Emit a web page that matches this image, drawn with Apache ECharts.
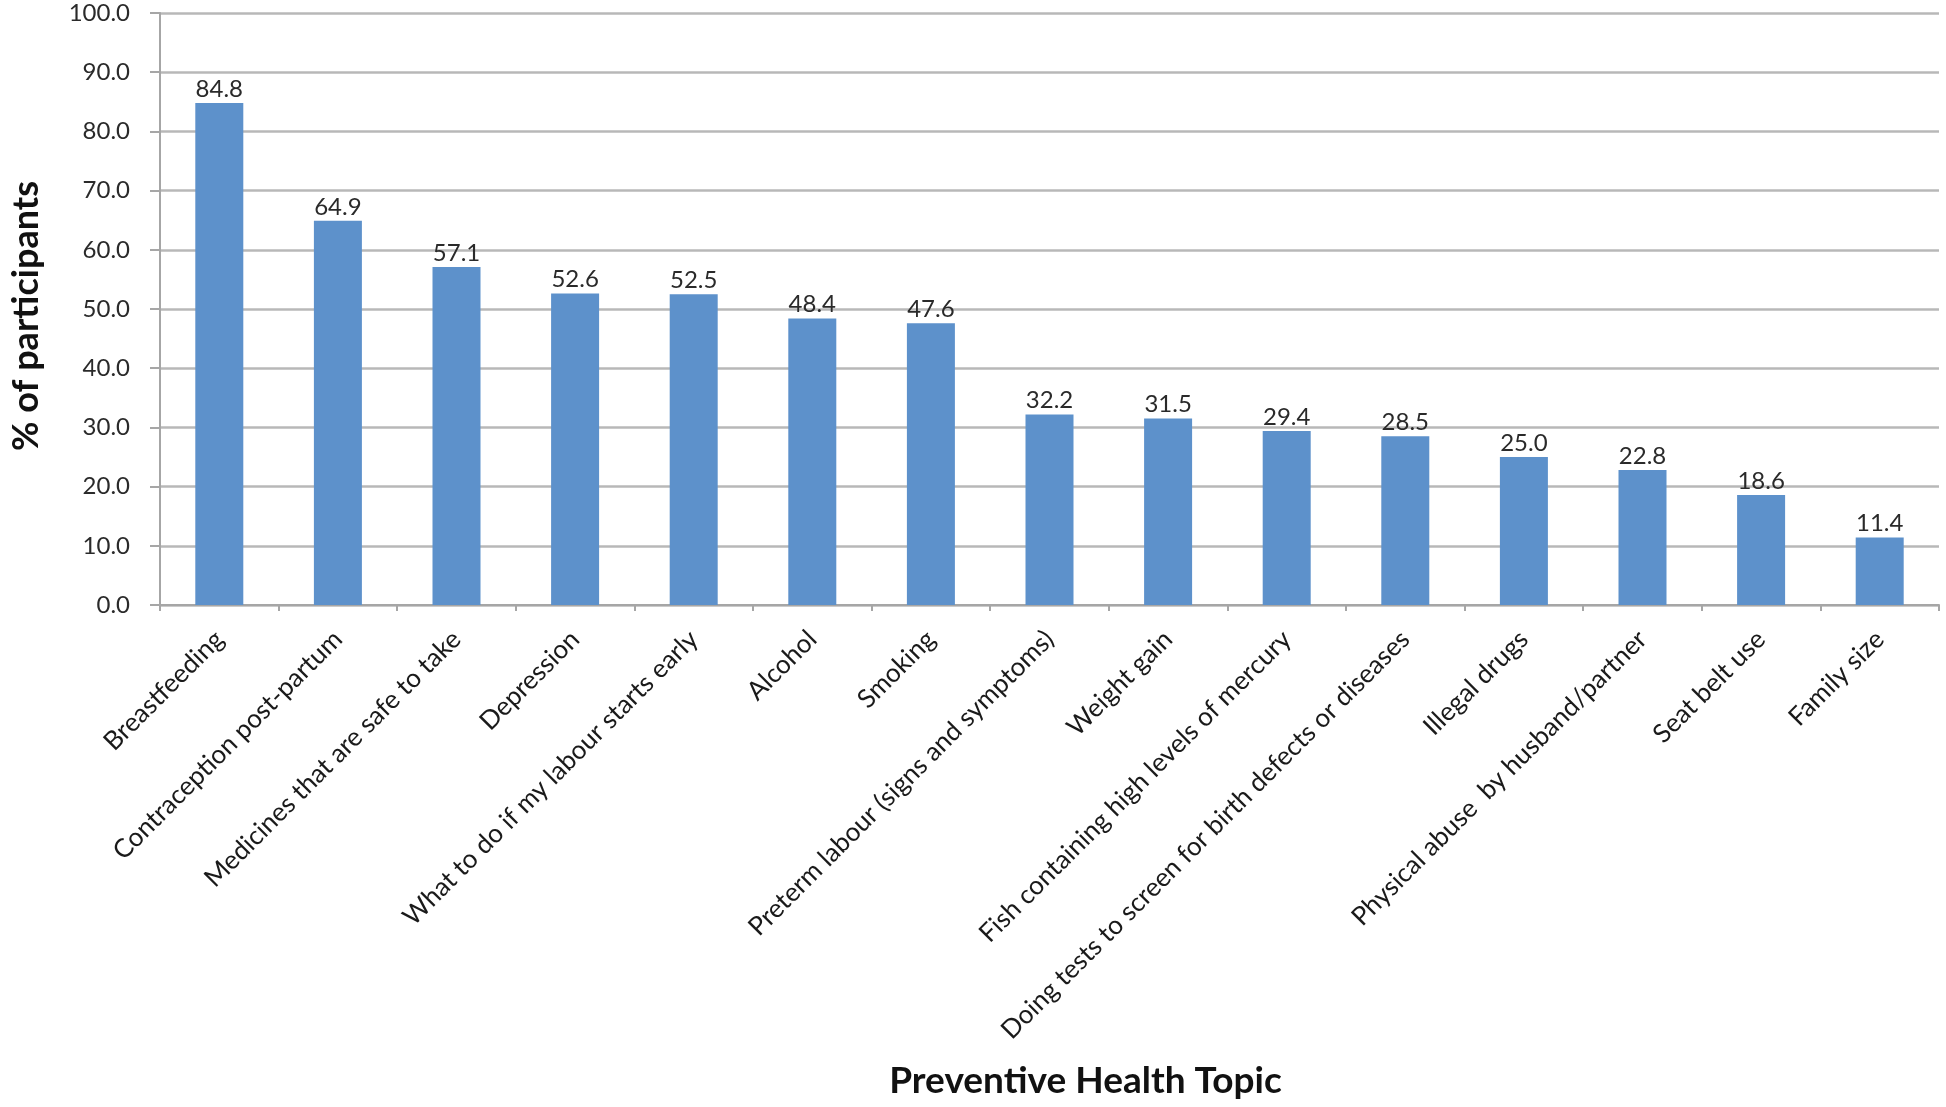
<!DOCTYPE html>
<html><head><meta charset="utf-8">
<script src="https://cdn.jsdelivr.net/npm/echarts@6/dist/echarts.min.js"></script>
<style>html,body{margin:0;padding:0;background:#fff}#c{width:1946px;height:1107px}</style>
</head><body><div id="c"></div>
<script>
const categories = [
  "Breastfeeding",
  "Contraception post-partum",
  "Medicines that are safe to take",
  "Depression",
  "What to do if my labour starts early",
  "Alcohol",
  "Smoking",
  "Preterm labour (signs and symptoms)",
  "Weight gain",
  "Fish containing high levels of mercury",
  "Doing tests to screen for birth defects or diseases",
  "Illegal drugs",
  "Physical abuse  by husband/partner",
  "Seat belt use",
  "Family size"
];
const values = [84.8, 64.9, 57.1, 52.6, 52.5, 48.4, 47.6, 32.2, 31.5, 29.4, 28.5, 25.0, 22.8, 18.6, 11.4];
const yTicks = [0, 10, 20, 30, 40, 50, 60, 70, 80, 90, 100];
const xTitle = "Preventive Health Topic";
const yTitle = "% of participants";

const FONT = "Lato, 'Open Sans', sans-serif";
const chart = echarts.init(document.getElementById('c'), null, {renderer: 'canvas'});
chart.setOption({
  animation: false,
  backgroundColor: '#ffffff',
  grid: {left: 157, right: 7, top: 13, bottom: 502, containLabel: false},
  xAxis: {
    type: 'category',
    data: categories,
    boundaryGap: true,
    axisLine: {lineStyle: {color: '#a6a6a6', width: 2}},
    axisTick: {show: true, alignWithLabel: false, length: 6, lineStyle: {color: '#a6a6a6', width: 2}},
    axisLabel: {rotate: 45, interval: 0, fontFamily: FONT, fontSize: 26, color: '#1a1a1a', margin: 30},
    name: xTitle,
    nameLocation: 'middle',
    nameGap: 458,
    nameTextStyle: {fontFamily: FONT, fontSize: 37, fontWeight: 'bold', color: '#111', padding: [0, 0, 0, 72]}
  },
  yAxis: {
    type: 'value',
    min: yTicks[0],
    max: yTicks[yTicks.length - 1],
    interval: 10,
    axisLine: {show: true, lineStyle: {color: '#a6a6a6', width: 2}},
    axisTick: {show: true, length: 10, lineStyle: {color: '#a6a6a6', width: 2}},
    splitLine: {show: true, lineStyle: {color: '#b8b8b8', width: 2.5}},
    axisLabel: {fontFamily: FONT, fontSize: 24, color: '#2a2a2a', margin: 30,
      formatter: v => v.toFixed(1)},
    name: yTitle,
    nameLocation: 'middle',
    nameGap: 116,
    nameRotate: 90,
    nameTextStyle: {fontFamily: FONT, fontSize: 36, fontWeight: 'bold', color: '#111', padding: [0, 14, 0, 0]}
  },
  series: [{
    type: 'bar',
    data: values,
    barWidth: 48,
    itemStyle: {color: '#5d91cb'},
    label: {show: true, position: 'top', distance: 2, fontFamily: FONT, fontSize: 24, color: '#2a2a2a',
      formatter: p => p.value.toFixed(1)}
  }]
});
</script></body></html>
